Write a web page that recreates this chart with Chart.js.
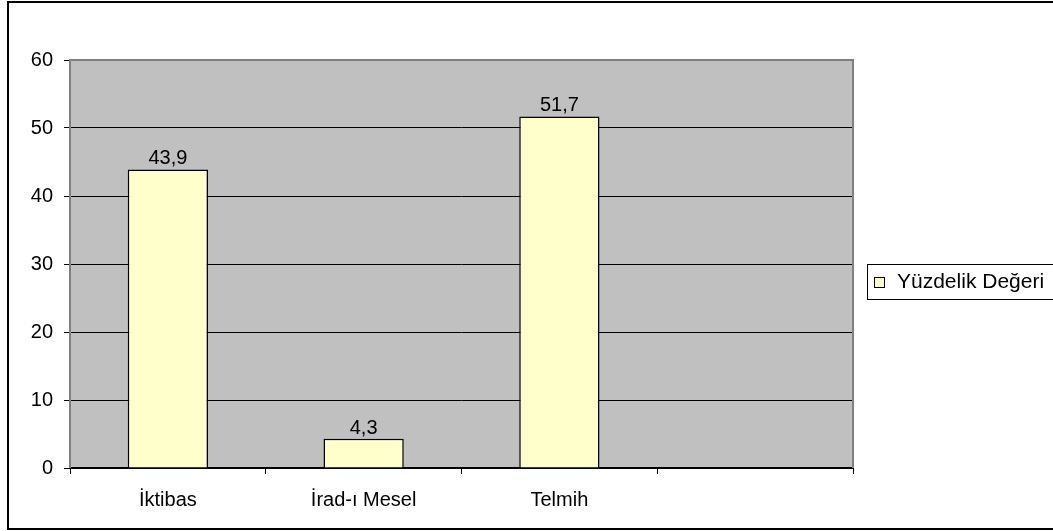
<!DOCTYPE html>
<html>
<head>
<meta charset="utf-8">
<script src="https://cdn.jsdelivr.net/npm/chart.js@4"></script>
<style>
    html, body { margin: 0; padding: 0; background: #fff; }
    #wrap { width: 1053px; height: 531px; position: relative; }
</style>
</head>
<body>
<div id="wrap"><canvas id="chart"></canvas></div>
<script>
const categories = ['İktibas', 'İrad-ı Mesel', 'Telmih', ''];
const percentValues = [43.9, 4.3, 51.7, null];
const seriesName = 'Yüzdelik Değeri';
const yTicks = [0, 10, 20, 30, 40, 50, 60];

const FONT = 'Liberation Sans, Arial, sans-serif';
const FONT_SIZE = 20;

// Turkish decimal comma for the value labels
function formatValue(v) {
    return v.toFixed(1).replace('.', ',');
}

// Gray plot background and outer frame
const backdrop = {
    id: 'backdrop',
    beforeDraw(chart) {
        const { ctx, chartArea: a } = chart;
        ctx.save();
        ctx.fillStyle = '#fff';
        ctx.fillRect(0, 0, chart.width, chart.height);
        ctx.strokeStyle = '#000';
        ctx.lineWidth = 2;
        ctx.strokeRect(8, 2, 1060, 527);
        ctx.fillStyle = '#C0C0C0';
        ctx.fillRect(a.left, a.top, a.right - a.left, a.bottom - a.top);
        ctx.restore();
    },
    afterDatasetsDraw(chart) {
        const { ctx, chartArea: a } = chart;
        ctx.save();
        ctx.strokeStyle = '#808080';
        ctx.lineWidth = 2;
        ctx.beginPath();
        ctx.moveTo(a.left, a.bottom);
        ctx.lineTo(a.left, a.top);
        ctx.lineTo(a.right, a.top);
        ctx.lineTo(a.right, a.bottom);
        ctx.stroke();
        ctx.restore();
    }
};

// Value labels above each bar
const valueLabels = {
    id: 'valueLabels',
    afterDatasetsDraw(chart) {
        const { ctx } = chart;
        const meta = chart.getDatasetMeta(0);
        ctx.save();
        ctx.font = FONT_SIZE + 'px ' + FONT;
        ctx.fillStyle = '#000';
        ctx.textAlign = 'center';
        ctx.textBaseline = 'alphabetic';
        meta.data.forEach((bar, i) => {
            const v = percentValues[i];
            if (v == null) return;
            ctx.fillText(formatValue(v), bar.x, bar.y - 5);
        });
        ctx.restore();
    }
};

// Boxed legend on the right
const boxLegend = {
    id: 'boxLegend',
    afterDraw(chart) {
        const { ctx } = chart;
        const ds = chart.data.datasets[0];
        ctx.save();
        ctx.fillStyle = '#fff';
        ctx.fillRect(867, 264, 190, 35);
        ctx.strokeStyle = '#000';
        ctx.lineWidth = 1;
        ctx.strokeRect(867.5, 264.5, 190, 35);
        ctx.fillStyle = ds.backgroundColor;
        ctx.fillRect(874.5, 277.5, 10, 10);
        ctx.strokeRect(874.5, 277.5, 10, 10);
        ctx.font = '21px ' + FONT;
        ctx.fillStyle = '#000';
        ctx.textBaseline = 'middle';
        ctx.fillText(ds.label, 897, 282);
        ctx.restore();
    }
};

document.addEventListener('DOMContentLoaded', () => {
    const ctx = document.getElementById('chart').getContext('2d');
    new Chart(ctx, {
        type: 'bar',
        data: {
            labels: categories,
            datasets: [{
                label: seriesName,
                data: percentValues,
                backgroundColor: '#FFFFCC',
                borderColor: '#000',
                borderWidth: 1.5,
                barPercentage: 0.41,
                categoryPercentage: 1
            }]
        },
        options: {
            responsive: true,
            maintainAspectRatio: false,
            animation: false,
            layout: { padding: { top: 60, right: 200, left: 0, bottom: 0 } },
            plugins: {
                legend: { display: false },
                tooltip: { enabled: false }
            },
            scales: {
                x: {
                    afterFit(scale) { scale.height = 63; },
                    border: { color: '#000', width: 2 },
                    grid: { offset: true, drawOnChartArea: false, color: '#000', tickLength: 6 },
                    ticks: { color: '#000', font: { family: FONT, size: FONT_SIZE }, padding: 14 }
                },
                y: {
                    min: 0,
                    max: 60,
                    afterFit(scale) { scale.width = 70; },
                    afterBuildTicks(scale) { scale.ticks = yTicks.map(v => ({ value: v })); },
                    border: { display: false },
                    grid: {
                        color: ctx => ctx.tick && ctx.tick.value === 60 ? '#808080' : '#000',
                        tickColor: '#000',
                        tickLength: 6
                    },
                    ticks: { color: '#000', font: { family: FONT, size: FONT_SIZE }, padding: 11 }
                }
            }
        },
        plugins: [backdrop, valueLabels, boxLegend]
    });
});
</script>
</body>
</html>
